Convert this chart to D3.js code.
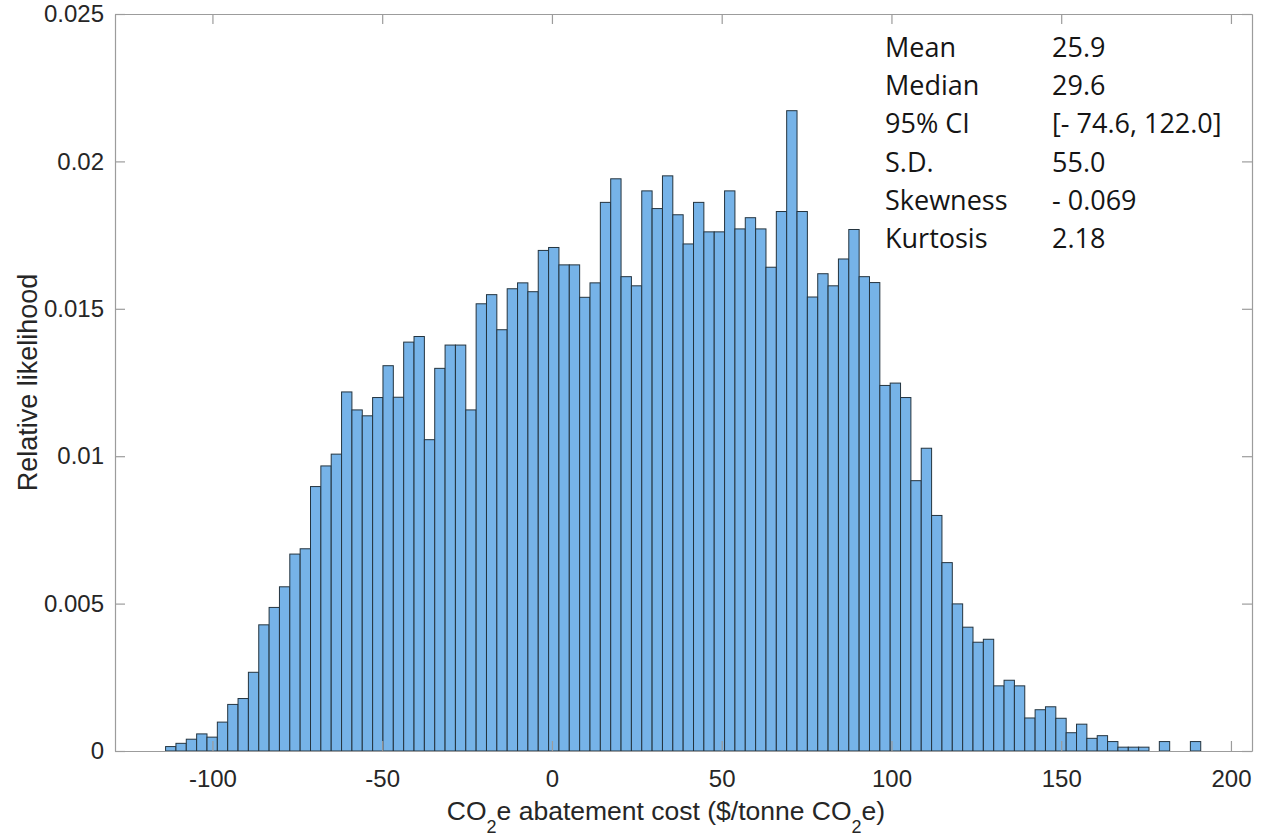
<!DOCTYPE html>
<html>
<head>
<meta charset="utf-8">
<script src="https://cdn.jsdelivr.net/npm/d3@7"></script>
<style>
  html, body { margin: 0; padding: 0; background: #ffffff; }
  svg { display: block; }
  .tick text { font-family: "Liberation Sans", Arial, sans-serif; font-size: 24px; fill: #262626; }
</style>
</head>
<body>
<svg id="chart" width="1265" height="837"></svg>
<script>
// Simulated CO2e abatement cost distribution, 100 equal-width bins
const costRange = [-113.8, 191.1];
const likelihood = [
  0.00015, 0.00026, 0.00040, 0.00058, 0.00047, 0.00098, 0.00158, 0.00178, 0.00267, 0.00428,
  0.00487, 0.00557, 0.00668, 0.00686, 0.00897, 0.00967, 0.01007, 0.01218, 0.01157, 0.01137,
  0.01199, 0.01307, 0.01200, 0.01387, 0.01406, 0.01056, 0.01298, 0.01377, 0.01377, 0.01157,
  0.01517, 0.01548, 0.01429, 0.01568, 0.01588, 0.01558, 0.01698, 0.01708, 0.01649, 0.01649,
  0.01539, 0.01588, 0.01861, 0.01941, 0.01609, 0.01578, 0.01900, 0.01840, 0.01951, 0.01819,
  0.01720, 0.01861, 0.01761, 0.01761, 0.01900, 0.01771, 0.01809, 0.01771, 0.01641, 0.01830,
  0.02172, 0.01830, 0.01540, 0.01619, 0.01578, 0.01669, 0.01769, 0.01609, 0.01589, 0.01240,
  0.01248, 0.01199, 0.00917, 0.01027, 0.00799, 0.00639, 0.00499, 0.00420, 0.00369, 0.00379,
  0.00221, 0.00240, 0.00221, 0.00112, 0.00140, 0.00150, 0.00111, 0.00062, 0.00091, 0.00043,
  0.00052, 0.00032, 0.00013, 0.00013, 0.00013, 0.00000, 0.00032, 0.00000, 0.00000, 0.00032
];

const xTicks = [-100, -50, 0, 50, 100, 150, 200];
const yTicks = [0, 0.005, 0.01, 0.015, 0.02, 0.025];
const yTickLabels = ["0", "0.005", "0.01", "0.015", "0.02", "0.025"];

const statNames = ["Mean", "Median", "95% CI", "S.D.", "Skewness", "Kurtosis"];
const statValues = ["25.9", "29.6", "[- 74.6, 122.0]", "55.0", "- 0.069", "2.18"];

// Plot geometry
const plot = { left: 115, right: 1252, top: 14, bottom: 751 };
const xDomain = [-128.7, 206.2];
const yDomain = [0, 0.025];

const svg = d3.select("#chart");

const x = d3.scaleLinear().domain(xDomain).range([plot.left, plot.right]);
const y = d3.scaleLinear().domain(yDomain).range([plot.bottom, plot.top]);

// Histogram bins
const binW = (costRange[1] - costRange[0]) / likelihood.length;
const bins = likelihood.map((v, i) => ({
  x0: costRange[0] + i * binW,
  x1: costRange[0] + (i + 1) * binW,
  v
})).filter(d => d.v > 0);

svg.append("g")
  .selectAll("rect")
  .data(bins)
  .join("rect")
  .attr("x", d => x(d.x0))
  .attr("width", d => x(d.x1) - x(d.x0))
  .attr("y", d => y(d.v))
  .attr("height", d => y(0) - y(d.v))
  .attr("fill", "#76b3e8")
  .attr("stroke", "#24343f")
  .attr("stroke-width", 1);

// Axes with inward ticks on all four sides
const axisColor = "#9c9c9c";
const fmtX = d => String(d);

const gBottom = svg.append("g")
  .attr("transform", `translate(0,${plot.bottom})`)
  .call(d3.axisBottom(x).tickValues(xTicks).tickFormat(fmtX)
    .tickSizeInner(-10).tickSizeOuter(0).tickPadding(19));

const gTop = svg.append("g")
  .attr("transform", `translate(0,${plot.top})`)
  .call(d3.axisTop(x).tickValues(xTicks).tickFormat(() => "")
    .tickSizeInner(-10).tickSizeOuter(0));

const gLeft = svg.append("g")
  .attr("transform", `translate(${plot.left},0)`)
  .call(d3.axisLeft(y).tickValues(yTicks).tickFormat((d, i) => yTickLabels[i])
    .tickSizeInner(-10).tickSizeOuter(0).tickPadding(11));

const gRight = svg.append("g")
  .attr("transform", `translate(${plot.right},0)`)
  .call(d3.axisRight(y).tickValues(yTicks).tickFormat(() => "")
    .tickSizeInner(-10).tickSizeOuter(0));

[gBottom, gTop, gLeft, gRight].forEach(g => {
  g.select(".domain").attr("stroke", axisColor).attr("stroke-width", 1.2);
  g.selectAll(".tick line").attr("stroke", axisColor).attr("stroke-width", 1.2);
});
gBottom.selectAll(".tick text").attr("dy", null).attr("y", 36);

// Axis titles
const xTitle = svg.append("text")
  .attr("x", 666)
  .attr("y", 820)
  .attr("text-anchor", "middle")
  .style("font-family", "'Liberation Sans', Arial, sans-serif")
  .style("font-size", "26.5px")
  .attr("fill", "#262626");
xTitle.append("tspan").text("CO");
xTitle.append("tspan").text("2").attr("dy", 13).style("font-size", "18px");
xTitle.append("tspan").text("e abatement cost ($/tonne CO").attr("dy", -13);
xTitle.append("tspan").text("2").attr("dy", 13).style("font-size", "18px");
xTitle.append("tspan").text("e)").attr("dy", -13);

svg.append("text")
  .attr("transform", `translate(37,${(plot.top + plot.bottom) / 2}) rotate(-90)`)
  .attr("text-anchor", "middle")
  .style("font-family", "'Liberation Sans', Arial, sans-serif")
  .style("font-size", "27px")
  .attr("fill", "#262626")
  .text("Relative likelihood");

// Summary statistics block
const stats = svg.append("g")
  .style("font-family", "'Open Sans', sans-serif")
  .style("font-size", "27px")
  .attr("fill", "#151515");

stats.selectAll("text.name")
  .data(statNames)
  .join("text")
  .attr("class", "name")
  .attr("x", 885)
  .attr("y", (d, i) => 57 + i * 38.2)
  .text(d => d);

stats.selectAll("text.val")
  .data(statValues)
  .join("text")
  .attr("class", "val")
  .attr("x", 1052)
  .attr("y", (d, i) => 57 + i * 38.2)
  .text(d => d);
</script>
</body>
</html>
